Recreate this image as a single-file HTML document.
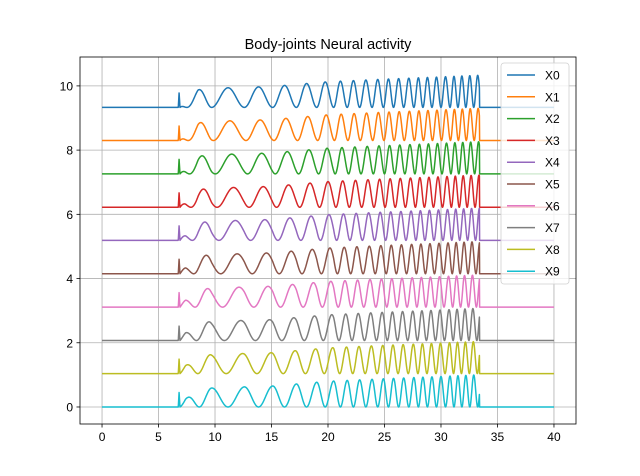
<!DOCTYPE html>
<html><head><meta charset="utf-8"><style>
body{margin:0;background:#fff}
svg{display:block;font-family:"Liberation Sans","DejaVu Sans",sans-serif}
</style></head><body>
<svg id="chart" width="640" height="476" viewBox="0 0 640 476"></svg>
<script>
const seriesNames=["X0","X1","X2","X3","X4","X5","X6","X7","X8","X9"];
const colors=["#1f77b4","#ff7f0e","#2ca02c","#d62728","#9467bd","#8c564b","#e377c2","#7f7f7f","#bcbd22","#17becf"];
const offsets=[9.33,8.30,7.26,6.22,5.19,4.15,3.11,2.07,1.04,0];
const phaseLeads=[1,0.889,0.778,0.667,0.556,0.444,0.333,0.222,0.111,0];
const peakTimes=[7.5,9.7,12.6,15.1,17.2,19.0,20.5,21.7,22.8,23.9,24.9,25.8,26.7,27.6,28.4,29.2,30.0,30.8,31.5,32.2,32.9];
const envTimes=[6.9,7.4,8.5,10,15,20,25,30,33.2];
const envAmps=[0,0.25,0.55,0.6,0.65,0.8,0.88,0.95,1.0];
const spikeTime=6.82, spikeHeight=0.45, startTime=6.9, endTime=33.4;
const xTicks=[0,5,10,15,20,25,30,35,40];
const yTicks=[0,2,4,6,8,10];

const L=80,R=576,T=57,B=424;
const xmin=-1.95,xmax=41.95,ymin=-0.53,ymax=10.9;
const X=t=>L+(t-xmin)/(xmax-xmin)*(R-L);
const Y=v=>B-(v-ymin)/(ymax-ymin)*(B-T);
const svg=document.getElementById('chart');
const NS="http://www.w3.org/2000/svg";
function mk(tag,attrs,parent){const e=document.createElementNS(NS,tag);for(const k in attrs)e.setAttribute(k,attrs[k]);(parent||svg).appendChild(e);return e;}

function theta(t){
  const n=peakTimes.length;
  if(t<=peakTimes[0]){const s=2*Math.PI/(peakTimes[1]-peakTimes[0]);return (t-peakTimes[0])*s;}
  for(let k=0;k<n-1;k++){if(t<=peakTimes[k+1])return 2*Math.PI*(k+(t-peakTimes[k])/(peakTimes[k+1]-peakTimes[k]));}
  const s=2*Math.PI/(peakTimes[n-1]-peakTimes[n-2]);return 2*Math.PI*(n-1)+(t-peakTimes[n-1])*s;
}
function env(t){
  if(t<=envTimes[0])return envAmps[0];
  for(let k=0;k<envTimes.length-1;k++){if(t<=envTimes[k+1])return envAmps[k]+(envAmps[k+1]-envAmps[k])*(t-envTimes[k])/(envTimes[k+1]-envTimes[k]);}
  return envAmps[envAmps.length-1];
}

// grid
xTicks.forEach(t=>{const g=mk('line',{x1:X(t),x2:X(t),y1:T,y2:B,stroke:'#b0b0b0','stroke-width':0.8});
});
yTicks.forEach(v=>{const g=mk('line',{x1:L,x2:R,y1:Y(v),y2:Y(v),stroke:'#b0b0b0','stroke-width':0.8});
});

// series
const clip=mk('clipPath',{id:'pc'});mk('rect',{x:L,y:T,width:R-L,height:B-T},clip);
seriesNames.forEach((nm,i)=>{
  let d='';
  for(let t=0;t<=40.0001;t+=0.02){
    let v=0;
    if(t>=6.75&&t<spikeTime)v=spikeHeight*(t-6.75)/(spikeTime-6.75);
    else if(t>=spikeTime&&t<startTime)v=spikeHeight*(startTime-t)/(startTime-spikeTime);
    else if(t>=startTime&&t<=endTime)v=env(t)*(1+Math.cos(theta(t)+phaseLeads[i]*Math.PI))/2;
    d+=(d?'L':'M')+X(t).toFixed(2)+','+Y(offsets[i]+v).toFixed(2);
  }
  const p=mk('path',{d:d,fill:'none',stroke:colors[i],'stroke-width':1.5,'clip-path':'url(#pc)','stroke-linejoin':'round'});
  
  
});

// axes frame
const fr=mk('rect',{x:L,y:T,width:R-L,height:B-T,fill:'none',stroke:'#000','stroke-width':0.8});


xTicks.forEach(t=>{
  mk('line',{x1:X(t),x2:X(t),y1:B,y2:B+3.5,stroke:'#000','stroke-width':0.8});
  const tx=mk('text',{x:X(t),y:B+17,'font-size':12,'text-anchor':'middle',fill:'#000'});tx.textContent=t;
  
});
yTicks.forEach(v=>{
  mk('line',{x1:L-3.5,x2:L,y1:Y(v),y2:Y(v),stroke:'#000','stroke-width':0.8});
  const tx=mk('text',{x:L-7,y:Y(v)+4.5,'font-size':12,'text-anchor':'end',fill:'#000'});tx.textContent=v;
  
});

const title=mk('text',{x:(L+R)/2,y:T-8,'font-size':14.5,'text-anchor':'middle',fill:'#000'});
title.textContent='Body-joints Neural activity';


// legend
const lg=mk('g',{});

mk('rect',{x:501,y:63,width:68,height:221,rx:3,fill:'#fff','fill-opacity':0.8,stroke:'#d0d0d0','stroke-width':0.8},lg);
seriesNames.forEach((nm,i)=>{
  const y=75+i*21.8;
  const e=mk('g',{},lg);
  
  
  mk('line',{x1:507,x2:535,y1:y,y2:y,stroke:colors[i],'stroke-width':1.5},e);
  const tx=mk('text',{x:545,y:y+4.5,'font-size':12,fill:'#000'},e);tx.textContent=nm;
});
</script>
</body></html>
